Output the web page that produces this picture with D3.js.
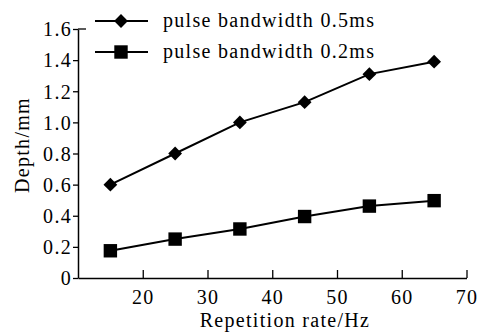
<!DOCTYPE html>
<html>
<head>
<meta charset="utf-8">
<script src="https://cdn.jsdelivr.net/npm/d3@7"></script>
<style>
  body { margin: 0; background: #fff; }
</style>
</head>
<body>
<svg id="chart" width="486" height="333"></svg>
<script>
var rates = [15, 25, 35, 45, 55, 65];
var depth05 = [0.6, 0.8, 1.0, 1.13, 1.31, 1.39];
var depth02 = [0.175, 0.25, 0.315, 0.395, 0.462, 0.497];
var xTicks = [20, 30, 40, 50, 60, 70];
var yTicks = [0, 0.2, 0.4, 0.6, 0.8, 1.0, 1.2, 1.4, 1.6];
var seriesNames = ["pulse bandwidth 0.5ms", "pulse bandwidth 0.2ms"];

var svg = d3.select("#chart");
var x = d3.scaleLinear().domain([10, 70]).range([78, 466.5]);
var y = d3.scaleLinear().domain([0, 1.6]).range([278, 29]);

var font = "'Liberation Serif', 'Times New Roman', serif";
var fontSize = 20, spacing = 1.3;

function styleText(sel) {
  sel.attr("font-family", font).attr("font-size", fontSize)
    .attr("letter-spacing", spacing).attr("fill", "#000");
}

// y axis
var yAxis = svg.append("g").attr("transform", "translate(" + x(10) + ",0)")
  .call(d3.axisLeft(y).tickValues(yTicks).tickSize(5).tickSizeOuter(0)
    .tickFormat(function (d) { return d === 0 ? "0" : d3.format(".1f")(d); }));
yAxis.attr("font-family", font).attr("font-size", fontSize);
yAxis.select(".domain").attr("stroke", "#000").attr("stroke-width", 1.5);
yAxis.selectAll(".tick line").attr("stroke", "#000").attr("stroke-width", 1.3);
yAxis.selectAll("text").call(styleText).attr("x", -6).attr("dy", "0.34em");
// cap at top
svg.append("line").attr("x1", x(10)).attr("x2", x(10) + 8)
  .attr("y1", y(1.6)).attr("y2", y(1.6)).attr("stroke", "#000").attr("stroke-width", 1.3);

// x axis
var xAxis = svg.append("g").attr("transform", "translate(0," + y(0) + ")")
  .call(d3.axisBottom(x).tickValues(xTicks).tickSize(-8).tickSizeOuter(0).tickFormat(d3.format("d")));
xAxis.attr("font-family", font).attr("font-size", fontSize);
xAxis.select(".domain").attr("stroke", "#000").attr("stroke-width", 1.5);
xAxis.selectAll(".tick line").attr("stroke", "#000").attr("stroke-width", 1.3);
xAxis.selectAll("text").call(styleText).attr("y", 25.5).attr("dy", 0);

// axis titles
svg.append("text").attr("x", 285).attr("y", 327).attr("text-anchor", "middle")
  .call(styleText).text("Repetition rate/Hz");
svg.append("text").attr("transform", "translate(29,145) rotate(-90)").attr("text-anchor", "middle")
  .call(styleText).text("Depth/mm");

var line = d3.line().x(function (d) { return x(d[0]); }).y(function (d) { return y(d[1]); });
var diamond = d3.symbol().type(d3.symbolSquare).size(95);
var square = d3.symbol().type(d3.symbolSquare).size(180);

function drawSeries(values, sym, rot) {
  var pts = rates.map(function (r, i) { return [r, values[i]]; });
  svg.append("path").datum(pts).attr("d", line)
    .attr("fill", "none").attr("stroke", "#000").attr("stroke-width", 2);
  svg.append("g").selectAll("path").data(pts).enter().append("path")
    .attr("d", sym)
    .attr("transform", function (d) {
      return "translate(" + x(d[0]) + "," + y(d[1]) + ") rotate(" + rot + ")";
    })
    .attr("fill", "#000");
}
drawSeries(depth05, diamond, 45);
drawSeries(depth02, square, 0);

// legend
var legend = [
  { name: seriesNames[0], sym: diamond, rot: 45, ly: 21 },
  { name: seriesNames[1], sym: square, rot: 0, ly: 52 }
];
var lg = svg.append("g").selectAll("g").data(legend).enter().append("g");
lg.append("line").attr("x1", 95).attr("x2", 148)
  .attr("y1", function (d) { return d.ly; }).attr("y2", function (d) { return d.ly; })
  .attr("stroke", "#000").attr("stroke-width", 2);
lg.append("path").attr("d", function (d) { return d.sym(); })
  .attr("transform", function (d) { return "translate(121," + d.ly + ") rotate(" + d.rot + ")"; })
  .attr("fill", "#000");
lg.append("text").attr("x", 163).attr("y", function (d) { return d.ly + 6; })
  .call(styleText)
  .text(function (d) { return d.name; });
</script>
</body>
</html>
